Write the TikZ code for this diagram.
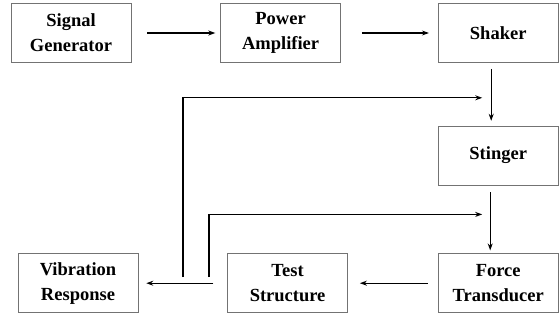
\documentclass[tikz,border=0pt]{standalone}
\usepackage{fontspec}
\setmainfont{Liberation Serif}
\usetikzlibrary{arrows.meta, positioning, calc}

\begin{document}
\begin{tikzpicture}[
    x=1pt, y=1pt,
    node distance=60pt and 90pt,
    block/.style={
        rectangle,
        draw=black!55,
        line width=0.6pt,
        minimum width=120pt,
        minimum height=59pt,
        align=center,
        inner sep=1pt,
        font=\fontsize{18.5}{25}\selectfont\bfseries
    },
    arrow/.style={
        -{Stealth[length=7pt, width=5pt]},
        line width=1.1pt
    }
]
\useasboundingbox (0,0) rectangle (559,-321);

% === Top row ===
\node[block] (siggen) at (71,-33) {Signal\\Generator};
\node[block, right=89pt of siggen] (poweramp) {Power\\Amplifier};
\node[block, right=97pt of poweramp] (shaker) {Shaker};

% === Right column ===
\node[block, below=63pt of shaker] (stinger) {Stinger};
\node[block, below=68pt of stinger] (forcetr) {Force\\Transducer};

% === Bottom row ===
\node[block, left=90pt of forcetr] (teststr) {Test\\Structure};
\node[block, left=89pt of teststr] (vibresp) {Vibration\\Response};

% === Forward path ===
\draw[arrow, shorten <=16pt, shorten >=5pt] (siggen) -- (poweramp);
\draw[arrow, shorten <=21pt, shorten >=9pt] (poweramp) -- (shaker);
\draw[arrow, shorten <=6pt, shorten >=5pt] ([xshift=-7pt]shaker.south) -- ([xshift=-7pt]stinger.north);
\draw[arrow, shorten <=7pt, shorten >=3pt] ([xshift=-8pt]stinger.south) -- ([xshift=-8pt]forcetr.north);
\draw[arrow, shorten <=10pt, shorten >=12pt] (forcetr) -- (teststr);
\draw[arrow, shorten <=14pt, shorten >=8pt] (teststr) -- (vibresp);

% === Feedback lines ===
\coordinate (fbone) at (183,-277);
\coordinate (fbtwo) at (209,-277);
\draw[arrow] (fbone) |- ($(shaker.south)+(-16pt,-35pt)$);
\draw[arrow] (fbtwo) |- ($(stinger.south)+(-16pt,-29pt)$);

\end{tikzpicture}
\end{document}
